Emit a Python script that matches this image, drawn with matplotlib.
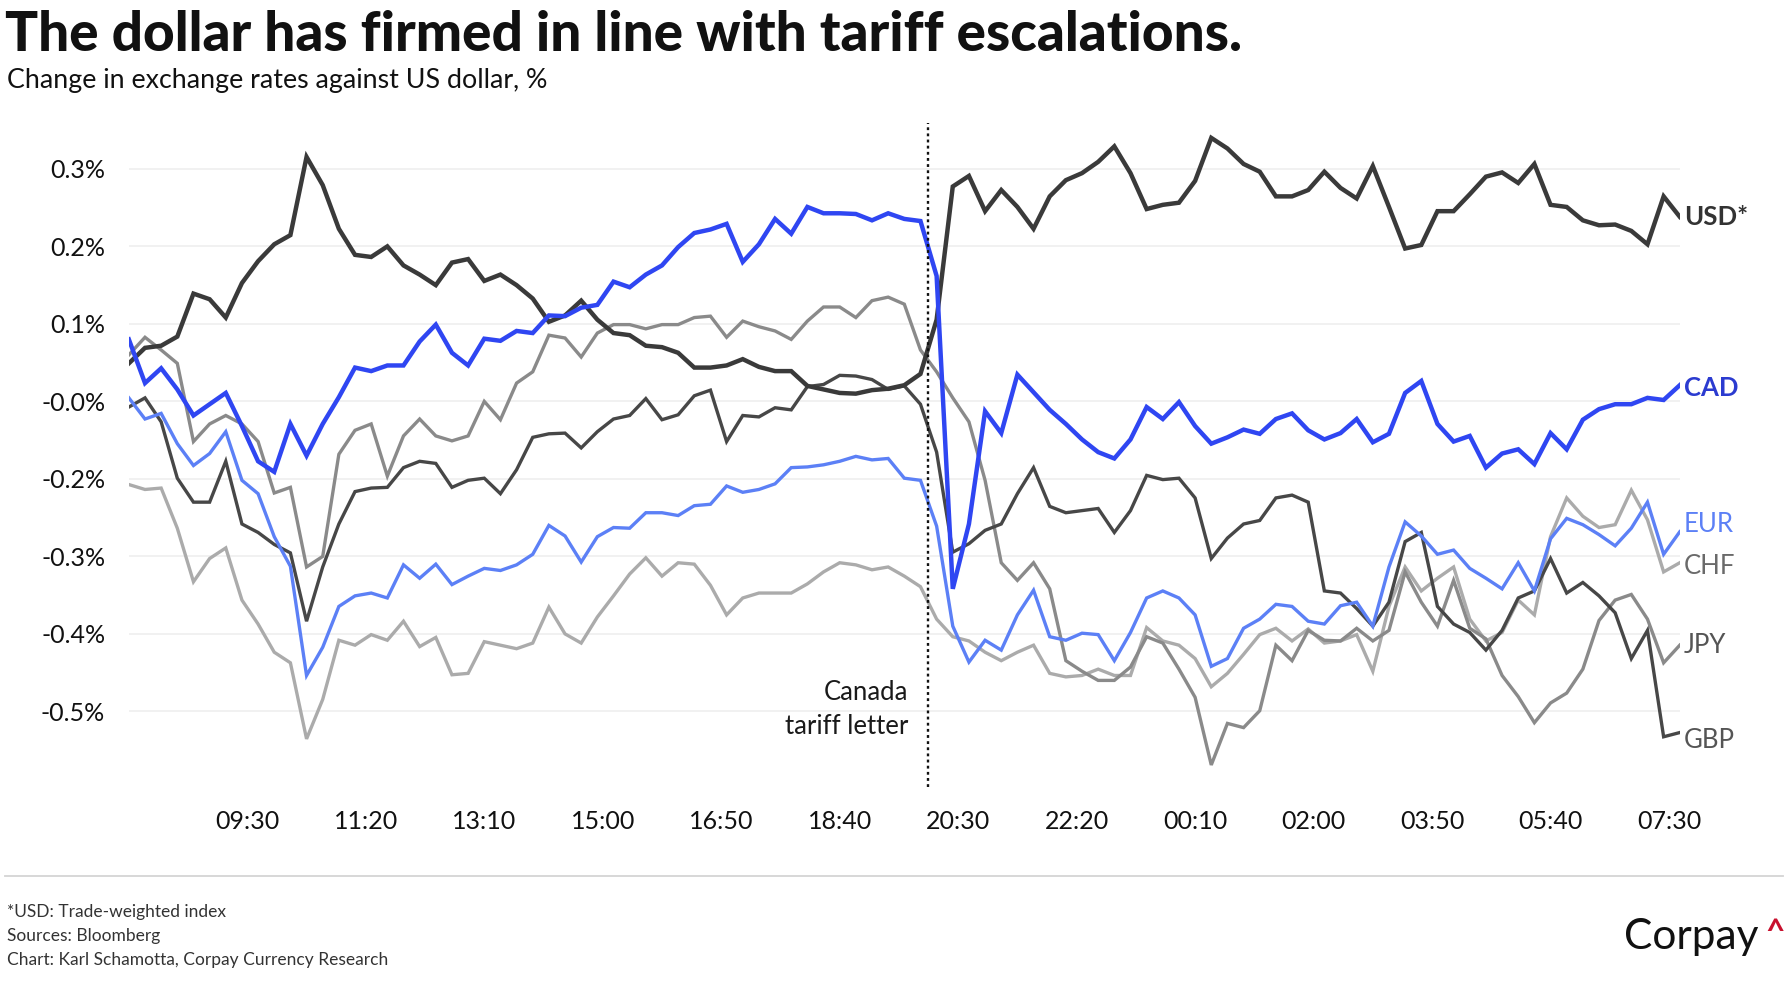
import numpy as np
import matplotlib
matplotlib.use("Agg")
import matplotlib.pyplot as plt

plt.rcParams['font.family'] = ['Lato', 'DejaVu Sans']

# ---------------- data ----------------
start_time = "07:40"      # first observation
step_minutes = 15         # sampling interval of the series below

usd = [0.011, 0.033, 0.036, 0.049, 0.110, 0.102, 0.076, 0.125, 0.156, 0.180, 0.193, 0.304, 0.264, 0.202, 0.165, 0.162, 0.177,
       0.150, 0.137, 0.122, 0.154, 0.159, 0.128, 0.137, 0.122, 0.103, 0.070, 0.079, 0.100, 0.073, 0.054, 0.051, 0.036, 0.034,
       0.026, 0.005, 0.005, 0.008, 0.017, 0.006, 0.000, 0.000, -0.021, -0.026, -0.031, -0.032, -0.027, -0.025, -0.020, -0.004,
       0.073, 0.262, 0.277, 0.227, 0.257, 0.233, 0.202, 0.248, 0.271, 0.281, 0.297, 0.319, 0.281, 0.230, 0.236, 0.239,
       0.270, 0.331, 0.316, 0.294, 0.283, 0.248, 0.248, 0.257, 0.283, 0.260, 0.245, 0.291, 0.233, 0.174, 0.179, 0.227, 0.227,
       0.251, 0.276, 0.282, 0.267, 0.294, 0.236, 0.233, 0.214, 0.207, 0.208, 0.199, 0.180, 0.248, 0.219]

cad = [0.045, -0.017, 0.004, -0.026, -0.063, -0.047, -0.031, -0.078, -0.128, -0.143, -0.075, -0.120, -0.075, -0.037, 0.005, 0.000, 0.008,
       0.008, 0.042, 0.066, 0.026, 0.008, 0.046, 0.043, 0.057, 0.054, 0.079, 0.078, 0.090, 0.094, 0.127, 0.119, 0.137, 0.150,
       0.176, 0.196, 0.201, 0.209, 0.155, 0.180, 0.216, 0.195, 0.233, 0.224, 0.224, 0.223, 0.214, 0.224, 0.216, 0.213,
       0.135, -0.309, -0.217, -0.057, -0.088, -0.005, -0.030, -0.055, -0.075, -0.097, -0.115, -0.124, -0.097, -0.051, -0.068, -0.044,
       -0.078, -0.103, -0.094, -0.083, -0.089, -0.068, -0.060, -0.084, -0.097, -0.088, -0.068, -0.101, -0.089, -0.031, -0.014, -0.075, -0.100,
       -0.092, -0.137, -0.117, -0.111, -0.132, -0.088, -0.111, -0.069, -0.054, -0.047, -0.047, -0.038, -0.041, -0.020]

eur = [-0.038, -0.068, -0.060, -0.103, -0.134, -0.117, -0.086, -0.155, -0.174, -0.235, -0.277, -0.432, -0.392, -0.334, -0.319, -0.315, -0.322,
       -0.275, -0.294, -0.274, -0.303, -0.291, -0.280, -0.283, -0.275, -0.260, -0.219, -0.234, -0.271, -0.235, -0.222, -0.223, -0.201, -0.201,
       -0.205, -0.191, -0.189, -0.163, -0.172, -0.168, -0.160, -0.137, -0.136, -0.133, -0.128, -0.121, -0.126, -0.124, -0.152, -0.155,
       -0.220, -0.362, -0.413, -0.382, -0.396, -0.346, -0.311, -0.377, -0.382, -0.372, -0.374, -0.411, -0.371, -0.322, -0.312, -0.322,
       -0.346, -0.419, -0.408, -0.365, -0.352, -0.331, -0.334, -0.355, -0.359, -0.333, -0.328, -0.362, -0.278, -0.214, -0.234, -0.260, -0.254,
       -0.280, -0.294, -0.309, -0.272, -0.312, -0.238, -0.209, -0.218, -0.232, -0.248, -0.223, -0.186, -0.260, -0.228]

gbp = [-0.051, -0.038, -0.072, -0.152, -0.186, -0.186, -0.128, -0.217, -0.229, -0.246, -0.258, -0.355, -0.278, -0.217, -0.171, -0.166, -0.165,
       -0.137, -0.128, -0.131, -0.165, -0.155, -0.152, -0.174, -0.140, -0.094, -0.089, -0.088, -0.109, -0.086, -0.068, -0.063, -0.039, -0.069,
       -0.062, -0.035, -0.027, -0.100, -0.063, -0.065, -0.052, -0.055, -0.022, -0.019, -0.006, -0.007, -0.012, -0.026, -0.021, -0.047,
       -0.115, -0.257, -0.245, -0.226, -0.217, -0.174, -0.137, -0.192, -0.201, -0.198, -0.195, -0.229, -0.198, -0.148, -0.154, -0.152,
       -0.180, -0.266, -0.237, -0.217, -0.212, -0.180, -0.176, -0.186, -0.312, -0.315, -0.337, -0.362, -0.328, -0.242, -0.229, -0.334, -0.359,
       -0.371, -0.396, -0.368, -0.322, -0.312, -0.266, -0.315, -0.300, -0.319, -0.343, -0.408, -0.368, -0.519, -0.513]

jpy = [0.023, 0.048, 0.030, 0.011, -0.100, -0.075, -0.063, -0.075, -0.100, -0.173, -0.165, -0.278, -0.263, -0.118, -0.084, -0.075, -0.149,
       -0.092, -0.068, -0.092, -0.099, -0.092, -0.043, -0.069, -0.017, -0.001, 0.051, 0.047, 0.020, 0.054, 0.066, 0.066, 0.060, 0.066,
       0.066, 0.076, 0.078, 0.048, 0.071, 0.063, 0.057, 0.045, 0.071, 0.091, 0.091, 0.076, 0.100, 0.105, 0.095, 0.030,
       -0.001, -0.038, -0.072, -0.155, -0.272, -0.297, -0.272, -0.309, -0.411, -0.426, -0.439, -0.439, -0.420, -0.377, -0.386, -0.423,
       -0.463, -0.559, -0.500, -0.506, -0.482, -0.389, -0.411, -0.368, -0.382, -0.383, -0.365, -0.383, -0.368, -0.285, -0.328, -0.362, -0.297,
       -0.365, -0.380, -0.432, -0.462, -0.499, -0.471, -0.457, -0.423, -0.354, -0.325, -0.317, -0.352, -0.414, -0.389]

chf = [-0.161, -0.168, -0.166, -0.223, -0.299, -0.266, -0.251, -0.325, -0.359, -0.399, -0.414, -0.522, -0.466, -0.382, -0.389, -0.374, -0.382,
       -0.355, -0.391, -0.378, -0.431, -0.429, -0.384, -0.389, -0.394, -0.386, -0.335, -0.373, -0.386, -0.349, -0.319, -0.288, -0.265, -0.291,
       -0.272, -0.274, -0.304, -0.346, -0.322, -0.315, -0.315, -0.315, -0.302, -0.285, -0.272, -0.275, -0.282, -0.278, -0.291, -0.306,
       -0.352, -0.377, -0.383, -0.399, -0.411, -0.399, -0.389, -0.429, -0.434, -0.432, -0.423, -0.432, -0.432, -0.364, -0.383, -0.389,
       -0.408, -0.448, -0.429, -0.402, -0.374, -0.365, -0.383, -0.366, -0.386, -0.383, -0.374, -0.426, -0.334, -0.278, -0.312, -0.294, -0.278,
       -0.352, -0.383, -0.371, -0.325, -0.346, -0.235, -0.180, -0.206, -0.222, -0.218, -0.169, -0.211, -0.285, -0.272]

x_tick_labels = ["09:30", "11:20", "13:10", "15:00", "16:50", "18:40", "20:30",
                 "22:20", "00:10", "02:00", "03:50", "05:40", "07:30"]
y_tick_values = [0.287, 0.177, 0.067, -0.043, -0.153, -0.263, -0.373, -0.483]

event_time = "20:02"
event_label = "Canada\ntariff letter"

title = "The dollar has firmed in line with tariff escalations."
subtitle = "Change in exchange rates against US dollar, %"
footer = ["*USD: Trade-weighted index", "Sources: Bloomberg",
          "Chart: Karl Schamotta, Corpay Currency Research"]

# ---------------- helpers ----------------
def minutes_after_start(hhmm):
    h, m = map(int, hhmm.split(":"))
    h0, m0 = map(int, start_time.split(":"))
    return ((h * 60 + m) - (h0 * 60 + m0)) % 1440

x = np.arange(len(usd)) * step_minutes

# name, values, line colour, width, label colour, label weight, label offset (pt)
series = [
    ("CHF", chf, "#ababab", 2.4, "#6a6a6a", "normal", -2.5),
    ("JPY", jpy, "#8a8a8a", 2.4, "#555555", "normal", 0),
    ("GBP", gbp, "#474747", 2.4, "#555555", "normal", -5.5),
    ("EUR", eur, "#5c80f6", 2.4, "#5c80f6", "normal", 5.5),
    ("USD*", usd, "#3a3a3a", 3.2, "#333333", "bold", 0),
    ("CAD", cad, "#2f46f2", 3.2, "#2b3bd0", "bold", -2),
]

# ---------------- figure ----------------
fig = plt.figure(figsize=(17.87, 10), dpi=100)
fig.patch.set_facecolor("white")
ax = fig.add_axes([0.0721, 0.2132, 0.8679, 0.6637])
ax.set_xlim(0, 1440)
ax.set_ylim(-0.590, 0.352)

for name, vals, col, lw, lcol, lw8, dy in series:
    ax.plot(x, vals, color=col, lw=lw, solid_joinstyle="miter", zorder=3)
    ax.annotate(name, xy=(x[-1], vals[-1]), xytext=(3, dy), textcoords="offset points",
                ha="left", va="center", fontsize=18.5, color=lcol, fontweight=lw8,
                annotation_clip=False)

ax.set_yticks(y_tick_values)
ax.set_yticklabels([f"{v:.1f}%" for v in y_tick_values])
ax.set_xticks([minutes_after_start(t) for t in x_tick_labels])
ax.set_xticklabels(x_tick_labels)
ax.grid(axis="y", color="#efefef", lw=1.2, zorder=0)
ax.tick_params(axis="both", length=0, labelsize=18, colors="#111111")
ax.tick_params(axis="y", pad=17)
ax.tick_params(axis="x", pad=17)
for s in ax.spines.values():
    s.set_visible(False)

ev = minutes_after_start(event_time)
ax.axvline(ev, color="#111111", lw=1.7, linestyle=(0, (1.2, 1.4)), zorder=4)
ax.annotate(event_label, xy=(ev, 0), xycoords=("data", "axes fraction"),
            xytext=(-14, 56), textcoords="offset points", ha="right", va="center",
            multialignment="right", fontsize=18.5, color="#1a1a1a", linespacing=1.45)

# ---------------- texts ----------------
fig.text(0.003, 0.949, title, fontsize=39.5, fontweight="black", color="#111111",
         ha="left", va="baseline")
fig.text(0.004, 0.912, subtitle, fontsize=19.3, color="#111111", ha="left", va="baseline")

fig.add_artist(plt.Line2D([0.003, 0.998], [0.1243, 0.1243], color="#d4d4d4", lw=1.3))
for i, line in enumerate(footer):
    fig.text(0.004, 0.083 - i * 0.024, line, fontsize=12.5, color="#333333",
             ha="left", va="baseline")

fig.text(0.909, 0.051, "Corpay", fontsize=30.5, color="#111111", ha="left", va="baseline")
fig.text(0.9935, 0.058, "^", fontsize=24, color="#c8102e", ha="center", va="baseline",
         fontweight="bold")

fig.savefig("out.png", dpi=100, facecolor="white")
